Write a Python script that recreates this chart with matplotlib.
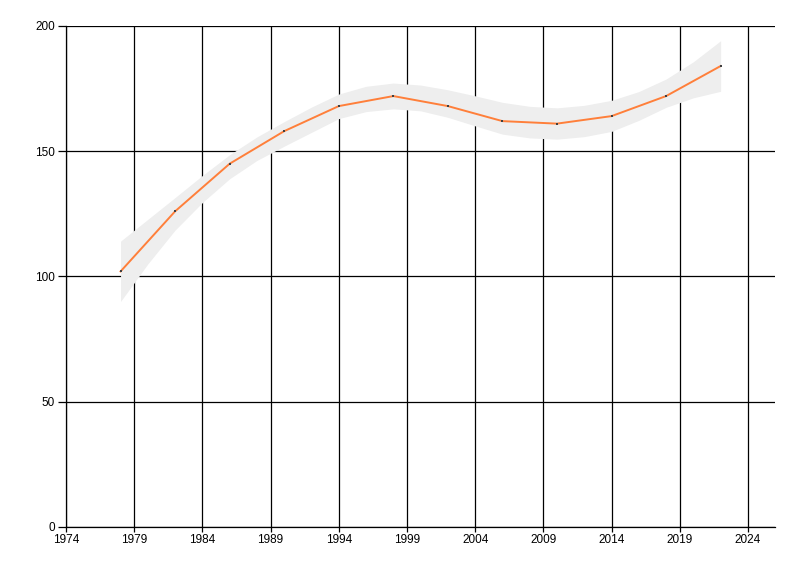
import matplotlib
matplotlib.use("Agg")
import matplotlib.pyplot as plt

# Data
years = [1978, 1982, 1986, 1990, 1994, 1998, 2002, 2006, 2010, 2014, 2018, 2022]
values = [102, 126, 145, 158, 168, 172, 168, 162, 161, 164, 172, 184]

band_years = [1978, 1980, 1982, 1984, 1986, 1988, 1990, 1992, 1994, 1996, 1998, 2000,
              2002, 2004, 2006, 2008, 2010, 2012, 2014, 2016, 2018, 2020, 2022]
band_upper = [114.1, 122.8, 131.5, 140.3, 148.6, 155.7, 161.8, 167.6, 172.8, 175.9, 177.2, 176.4,
              174.5, 172.1, 169.5, 167.9, 167.3, 168.3, 170.3, 173.8, 178.8, 185.7, 194.1]
band_lower = [90.0, 105.0, 118.5, 129.5, 139.0, 146.3, 152.0, 157.5, 163.0, 165.8, 166.9, 166.1,
              163.5, 160.1, 156.8, 155.3, 154.8, 155.8, 157.9, 162.3, 167.5, 171.3, 173.9]

x_ticks = [1974, 1979, 1984, 1989, 1994, 1999, 2004, 2009, 2014, 2019, 2024]
y_ticks = [0, 50, 100, 150, 200]

plt.rcParams['font.family'] = ['Liberation Sans', 'DejaVu Sans']

fig = plt.figure(figsize=(8, 5.76), dpi=100)
ax = fig.add_axes([0.0825, 0.0851, 0.969 - 0.0825, 0.955 - 0.0851])

ax.set_xlim(1974, 2026)
ax.set_ylim(0, 200)
ax.set_xticks(x_ticks)
ax.set_yticks(y_ticks)
ax.grid(True, color="black", linewidth=0.9)
ax.set_axisbelow(True)

ax.fill_between(band_years, band_lower, band_upper, color="#EEEEEE", linewidth=0, zorder=2)
ax.plot(years, values, color="#FF7F3A", linewidth=1.4, zorder=3)
ax.plot(years, values, linestyle="none", marker="s", markersize=1.6,
        color="#404040", markeredgewidth=0, zorder=4)

for s in ["top", "right"]:
    ax.spines[s].set_visible(False)
for s in ["left", "bottom"]:
    ax.spines[s].set_linewidth(0.9)

ax.tick_params(axis="y", length=6, width=0.9, pad=2, labelsize=8.5, colors="black")
ax.tick_params(axis="x", length=3.5, width=0.9, pad=1.5, labelsize=8.5, colors="black")

fig.savefig("out.png", dpi=100)
